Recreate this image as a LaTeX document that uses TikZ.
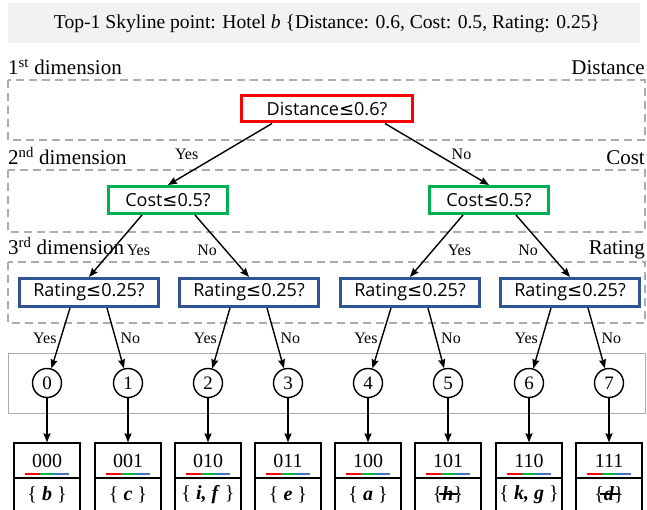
\documentclass[tikz,border=0pt]{standalone}
\usepackage{fontspec}
\setmainfont{Liberation Serif}
\newfontfamily\qfont{Open Sans}
\newfontfamily\lesymfont{DejaVu Sans}
\usetikzlibrary{arrows.meta}

\definecolor{distred}{RGB}{255,0,0}
\definecolor{costgreen}{RGB}{0,176,80}
\definecolor{ratblue}{RGB}{47,85,151}
\definecolor{bitblue}{RGB}{68,114,196}
\definecolor{linegray}{RGB}{175,171,171}
\definecolor{titlegray}{RGB}{242,242,242}

\newcommand{\px}[1]{\fontsize{#1}{#1}\selectfont}
\newcommand{\lesym}{{\lesymfont ≤}}
\newcommand{\bi}[1]{\textbf{\textit{#1}}}
\newcommand{\struck}[1]{\ooalign{#1\cr\hidewidth\rule[0.3em]{0.95em}{1.2pt}\hidewidth\cr}}

\tikzset{
  query/.style={draw=#1, line width=3pt, fill=white, inner sep=0pt, font=\qfont\px{18}},
  leaf/.style={circle, draw, line width=1.4pt, fill=white, minimum size=29pt, inner sep=0pt, font=\px{19}},
  bits/.style={draw, line width=1.2pt, minimum width=66pt, minimum height=35pt, inner sep=0pt, font=\px{20}},
  bucket/.style={bits, minimum height=34pt},
  arr/.style={-{Stealth[length=9pt,width=7pt,inset=1pt]}, line width=1.4pt},
  yn/.style={font=\px{16}, inner sep=1pt},
  dimbox/.style={draw=linegray, dash pattern=on 8pt off 5pt, line width=1.5pt},
  dimlab/.style={font=\px{21}, inner sep=0pt},
}

\begin{document}
\begin{tikzpicture}[x=1pt,y=-1pt]
    \useasboundingbox (0,0) rectangle (647,510);

    % title
    \fill[titlegray] (8,3) rectangle (640,43);
    \node[font=\px{19.6}] (title) at (327,24) {Top-1 Skyline point: Hotel \textit{b} \{Distance: 0.6, Cost: 0.5, Rating: 0.25\}};

    % one dashed band per dimension
    \draw[dimbox] (8,80) rectangle (645,140);
    \draw[dimbox] (8,170) rectangle (645,232);
    \draw[dimbox] (8,262) rectangle (645,323);
    \draw[linegray, line width=1pt] (8,353) rectangle (645,413);

    \node[dimlab, anchor=base west] (dim1) at (8,75) {1\textsuperscript{st} dimension};
    \node[dimlab, anchor=base east] (att1) at (645,75) {Distance};
    \node[dimlab, anchor=base west] (dim2) at (8,165) {2\textsuperscript{nd} dimension};
    \node[dimlab, anchor=base east] (att2) at (645,165) {Cost};
    \node[dimlab, anchor=base west] (dim3) at (8,255) {3\textsuperscript{rd} dimension};
    \node[dimlab, anchor=base east] (att3) at (645,255) {Rating};

    % tests
    \node[query=distred, minimum width=171pt, minimum height=26pt] (dist) at (327,109) {Distance\lesym0.6?};
    \node[query=costgreen, minimum width=119pt, minimum height=27pt] (costL) at (168,200) {Cost\lesym0.5?};
    \node[query=costgreen, minimum width=119pt, minimum height=27pt] (costR) at (489,200) {Cost\lesym0.5?};
    \node[query=ratblue, minimum width=139pt, minimum height=28pt] (ratA) at (89,292.5) {Rating\lesym0.25?};
    \node[query=ratblue, minimum width=139pt, minimum height=28pt] (ratB) at (249,292.5) {Rating\lesym0.25?};
    \node[query=ratblue, minimum width=139pt, minimum height=28pt] (ratC) at (410,292.5) {Rating\lesym0.25?};
    \node[query=ratblue, minimum width=139pt, minimum height=28pt] (ratD) at (570,292.5) {Rating\lesym0.25?};

    \draw[arr] ([xshift=-55pt]dist.south) -- (costL.north) node[yn, midway, left=20pt] {Yes};
    \draw[arr] ([xshift=58pt]dist.south) -- (costR.north) node[yn, midway, right=13pt] {No};
    \draw[arr] ([xshift=-26pt]costL.south) -- (ratA.north) node[yn, pos=0.565, right=13pt] {Yes};
    \draw[arr] ([xshift=27pt]costL.south) -- (ratB.north) node[yn, pos=0.565, left=7pt] {No};
    \draw[arr] ([xshift=-26pt]costR.south) -- (ratC.north) node[yn, pos=0.565, right=13pt] {Yes};
    \draw[arr] ([xshift=27pt]costR.south) -- (ratD.north) node[yn, pos=0.565, left=7pt] {No};

    % leaves and their buckets
    \foreach \i/\x/\code/\s in {0/47/000/{\{ \bi{b} \}}, 1/128/001/{\{ \bi{c} \}},
        2/208/010/{\{ \bi{i, f} \}}, 3/288/011/{\{ \bi{e} \}},
        4/368/100/{\{ \bi{a} \}}, 5/448/101/{\{\struck{\bi{h}}\}},
        6/529/110/{\{ \bi{k, g} \}}, 7/609/111/{\{\struck{\bi{d}}\}}} {
      \node[leaf] (leaf\i) at (\x,383) {\i};
      \node[bits] (bits\i) at (\x,460.5) {\code};
      \node[bucket] (set\i) at (\x,495) {\s};
      \draw[arr] (leaf\i) -- (bits\i);
      \draw[distred, line width=2pt] ([xshift=-22pt,yshift=5pt]bits\i.south) -- +(14.7,0);
      \draw[costgreen, line width=2pt] ([xshift=-7.3pt,yshift=5pt]bits\i.south) -- +(14.7,0);
      \draw[bitblue, line width=2pt] ([xshift=7.4pt,yshift=5pt]bits\i.south) -- +(14.7,0);
    }

    \foreach \r/\a/\b in {ratA/0/1, ratB/2/3, ratC/4/5, ratD/6/7} {
      \draw[arr] ([xshift=-19pt]\r.south) -- (leaf\a) node[yn, midway, left=2.5pt] {Yes};
      \draw[arr] ([xshift=18pt]\r.south) -- (leaf\b) node[yn, midway, right=3.5pt] {No};
    }
\end{tikzpicture}
\end{document}
